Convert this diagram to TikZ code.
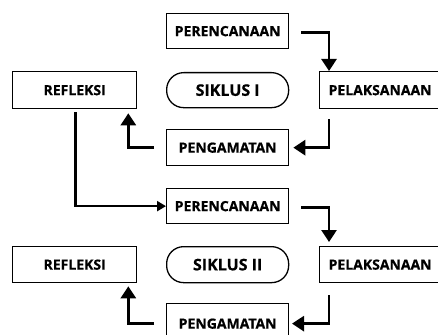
\documentclass[tikz,border=0pt]{standalone}
\usepackage{fontspec}
\setmainfont{Open Sans}[BoldFeatures={FakeBold=0.6}]
\usetikzlibrary{arrows.meta,calc}
\begin{document}
\begin{tikzpicture}[x=1pt,y=-1pt,
  box/.style={draw,line width=1.3pt,anchor=north west,inner sep=0pt,
    font=\fontsize{14}{15}\selectfont\bfseries},
  cyc/.style={box,rounded corners=17pt,font=\fontsize{16}{17}\selectfont\bfseries},
  conn/.style={line width=2.8pt,-{Triangle[width=15pt,length=12pt]}},
  connsmall/.style={line width=2.6pt,-{Triangle[width=10pt,length=9pt]}}]
\useasboundingbox (0,0) rectangle (438,334);
% cycle I
\node[box,minimum width=122pt,minimum height=35pt] (p1) at (166,13) {PERENCANAAN};
\node[box,minimum width=124pt,minimum height=37pt] (r1) at (12,71) {REFLEKSI};
\node[cyc,minimum width=122pt,minimum height=35pt] (s1) at (166,72) {SIKLUS I};
\node[box,minimum width=126pt,minimum height=37pt,text width=126pt,align=left] (l1) at (319,71) {\hspace*{9pt}PELAKSANAAN};
\node[box,minimum width=122pt,minimum height=36pt] (g1) at (166,129) {PENGAMATAN};
% cycle II
\node[box,minimum width=122pt,minimum height=35pt] (p2) at (166,188) {PERENCANAAN};
\node[box,minimum width=124pt,minimum height=36pt] (r2) at (12,246) {REFLEKSI};
\node[cyc,minimum width=122pt,minimum height=36pt] (s2) at (166,246) {SIKLUS II};
\node[box,minimum width=126pt,minimum height=36pt,text width=126pt,align=left] (l2) at (319,246) {\hspace*{9pt}PELAKSANAAN};
\node[box,minimum width=122pt,minimum height=40pt] (g2) at (166,303) {PENGAMATAN};
% connector points
\coordinate (a1s) at ($(p1.east)+(12,1)$);
\coordinate (a1e) at ($(l1.north west)+(10,0)$);
\coordinate (a2s) at ($(l1.south west)+(10,10)$);
\coordinate (a2e) at ($(g1.east)+(4,0)$);
\coordinate (a3s) at ($(g1.west)+(-12,0)$);
\coordinate (a3e) at ($(r1.south east)+(-9,4)$);
\coordinate (a4s) at ($(r1.south)+(1,3)$);
\coordinate (a5s) at ($(p2.east)+(12,1)$);
\coordinate (a5e) at ($(l2.north west)+(10,-4)$);
\coordinate (a6s) at ($(l2.south west)+(10,12)$);
\coordinate (a6e) at ($(g2.west)+(126,0)$);
\coordinate (a7s) at ($(g2.west)+(-12,0)$);
\coordinate (a7e) at ($(r2.south east)+(-9,3)$);
\draw[conn] (a1s) -| (a1e);
\draw[conn] (a2s) |- (a2e);
\draw[conn] (a3s) -| (a3e);
\draw[connsmall] (a4s) |- (p2.west);
\draw[conn] (a5s) -| (a5e);
\draw[conn] (a6s) |- (a6e);
\draw[conn] (a7s) -| (a7e);
\end{tikzpicture}
\end{document}
